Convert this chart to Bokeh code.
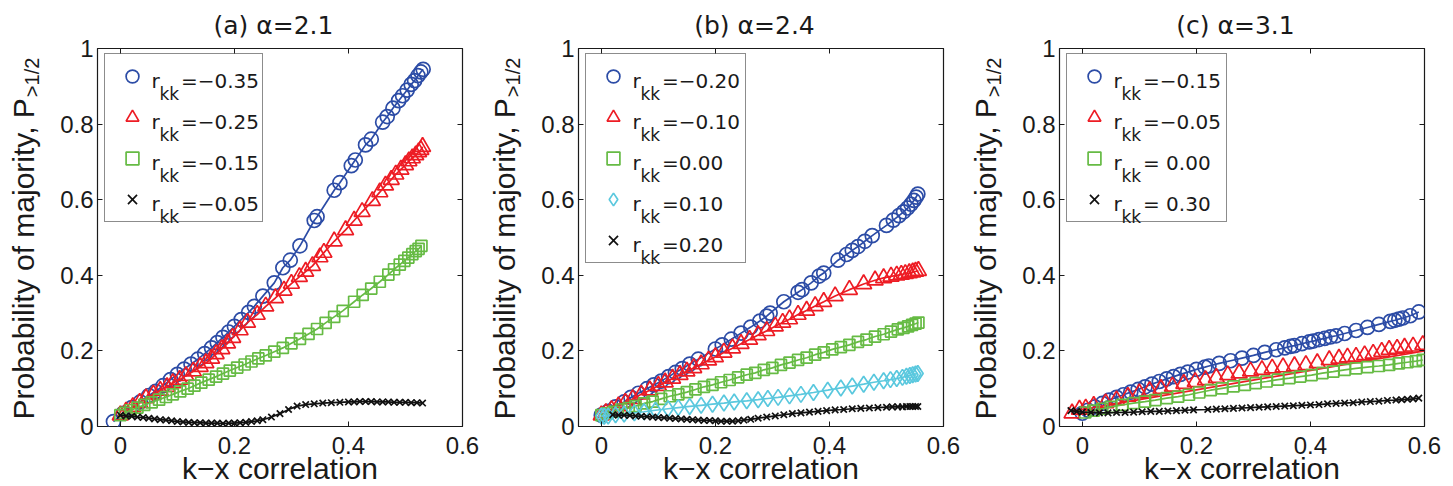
from bokeh.plotting import figure
from bokeh.layouts import row
from bokeh.models import Range1d, FixedTicker, LinearAxis, Label, Legend, LegendItem
from bokeh.core.properties import value
from bokeh.embed import file_html
from bokeh.resources import INLINE

# ---------------- data ----------------
x_ticks = [0.0, 0.2, 0.4, 0.6]
x_tick_labels = ["0", "0.2", "0.4", "0.6"]
y_ticks = [0.0, 0.2, 0.4, 0.6, 0.8, 1.0]
y_tick_labels = ["0", "0.2", "0.4", "0.6", "0.8", "1"]

titles = ["(a) \u03b1=2.1", "(b) \u03b1=2.4", "(c) \u03b1=3.1"]
x_label = "k\u2212x correlation"
y_label_main = "Probability of majority, P"
y_label_sub = ">1/2"

legend_a = ["=\u22120.35", "=\u22120.25", "=\u22120.15", "=\u22120.05"]
legend_b = ["=\u22120.20", "=\u22120.10", "=0.00", "=0.10", "=0.20"]
legend_c = ["=\u22120.15", "=\u22120.05", "= 0.00", "= 0.30"]

# panel (a)
a_blue_x = [-0.012, 0.005, 0.02, 0.035, 0.05, 0.062, 0.075, 0.088, 0.1, 0.112, 0.124, 0.136, 0.148, 0.16, 0.17,
            0.18, 0.19, 0.2, 0.212, 0.225, 0.235, 0.25, 0.27, 0.285, 0.298, 0.315, 0.34, 0.345, 0.375, 0.385,
            0.405, 0.412, 0.43, 0.44, 0.46, 0.468, 0.478, 0.488, 0.495, 0.503, 0.51, 0.516, 0.522, 0.527, 0.531]
a_blue_y = [0.013, 0.035, 0.05, 0.065, 0.082, 0.093, 0.108, 0.124, 0.138, 0.152, 0.165, 0.178, 0.193, 0.208, 0.222,
            0.236, 0.25, 0.265, 0.283, 0.302, 0.318, 0.345, 0.38, 0.42, 0.44, 0.478, 0.545, 0.555, 0.625, 0.645,
            0.69, 0.705, 0.745, 0.76, 0.805, 0.82, 0.842, 0.862, 0.875, 0.89, 0.905, 0.915, 0.928, 0.938, 0.945]
a_red_x = [0.0, 0.01, 0.022, 0.034, 0.045, 0.058, 0.07, 0.082, 0.092, 0.104, 0.115, 0.128, 0.14, 0.15, 0.16,
           0.168, 0.178, 0.188, 0.197, 0.21, 0.223, 0.24, 0.255, 0.272, 0.287, 0.3, 0.314, 0.325, 0.337, 0.35,
           0.357, 0.375, 0.395, 0.41, 0.424, 0.442, 0.455, 0.465, 0.475, 0.483, 0.492, 0.5, 0.506, 0.512, 0.518,
           0.523, 0.527, 0.53]
a_red_y = [0.03, 0.04, 0.052, 0.063, 0.075, 0.085, 0.095, 0.105, 0.115, 0.124, 0.134, 0.146, 0.158, 0.168, 0.18,
           0.192, 0.205, 0.22, 0.235, 0.255, 0.275, 0.296, 0.318, 0.34, 0.36, 0.378, 0.396, 0.41, 0.425, 0.448,
           0.46, 0.49, 0.52, 0.545, 0.568, 0.597, 0.62, 0.638, 0.653, 0.667, 0.68, 0.692, 0.702, 0.71, 0.718,
           0.726, 0.732, 0.74]
a_green_x = [0.0, 0.008, 0.018, 0.03, 0.042, 0.055, 0.068, 0.08, 0.092, 0.105, 0.118, 0.13, 0.142, 0.155, 0.168,
             0.18, 0.192, 0.205, 0.218, 0.23, 0.242, 0.255, 0.27, 0.285, 0.3, 0.315, 0.33, 0.345, 0.36, 0.375,
             0.39, 0.41, 0.425, 0.44, 0.455, 0.47, 0.48, 0.49, 0.498, 0.505, 0.512, 0.518, 0.523, 0.528]
a_green_y = [0.03, 0.036, 0.043, 0.05, 0.057, 0.064, 0.071, 0.078, 0.085, 0.093, 0.1, 0.108, 0.116, 0.124, 0.132,
             0.14, 0.148, 0.156, 0.164, 0.172, 0.18, 0.188, 0.198, 0.208, 0.22, 0.232, 0.245, 0.258, 0.274, 0.29,
             0.306, 0.33, 0.348, 0.365, 0.383, 0.402, 0.416, 0.428, 0.438, 0.447, 0.456, 0.464, 0.47, 0.478]
a_black_x = [0.0, 0.01, 0.02, 0.03, 0.04, 0.05, 0.06, 0.07, 0.08, 0.09, 0.1, 0.11, 0.12, 0.13, 0.14, 0.15, 0.16,
             0.17, 0.18, 0.19, 0.2, 0.21, 0.22, 0.23, 0.24, 0.25, 0.265, 0.28, 0.295, 0.31, 0.325, 0.34, 0.355,
             0.37, 0.385, 0.4, 0.41, 0.42, 0.43, 0.44, 0.45, 0.46, 0.47, 0.48, 0.49, 0.5, 0.51, 0.52, 0.53]
a_black_y = [0.03, 0.028, 0.027, 0.025, 0.024, 0.022, 0.02, 0.018, 0.017, 0.015, 0.013, 0.012, 0.011, 0.01, 0.01,
             0.009, 0.009, 0.009, 0.008, 0.009, 0.009, 0.01, 0.011, 0.013, 0.015, 0.018, 0.025, 0.034, 0.045,
             0.054, 0.058, 0.06, 0.062, 0.063, 0.064, 0.065, 0.065, 0.066, 0.066, 0.066, 0.065, 0.065, 0.065,
             0.064, 0.064, 0.064, 0.063, 0.063, 0.062]

# panel (b)
b_blue_x = [0.0, 0.012, 0.025, 0.04, 0.052, 0.065, 0.08, 0.092, 0.105, 0.118, 0.13, 0.142, 0.155, 0.17, 0.2,
            0.212, 0.228, 0.245, 0.262, 0.278, 0.29, 0.296, 0.32, 0.345, 0.352, 0.368, 0.382, 0.39, 0.415, 0.43,
            0.44, 0.45, 0.462, 0.475, 0.5, 0.512, 0.522, 0.53, 0.537, 0.543, 0.548, 0.552, 0.555]
b_blue_y = [0.03, 0.04, 0.052, 0.065, 0.077, 0.088, 0.1, 0.11, 0.12, 0.132, 0.143, 0.153, 0.165, 0.178, 0.205,
            0.216, 0.231, 0.247, 0.263, 0.279, 0.292, 0.3, 0.33, 0.355, 0.362, 0.38, 0.398, 0.406, 0.44, 0.455,
            0.466, 0.476, 0.49, 0.505, 0.532, 0.546, 0.558, 0.568, 0.578, 0.588, 0.598, 0.607, 0.615]
b_red_x = [0.0, 0.008, 0.018, 0.03, 0.042, 0.055, 0.07, 0.085, 0.1, 0.112, 0.125, 0.138, 0.15, 0.162, 0.175,
           0.188, 0.2, 0.215, 0.23, 0.245, 0.26, 0.275, 0.29, 0.305, 0.318, 0.33, 0.345, 0.36, 0.375, 0.39,
           0.41, 0.435, 0.46, 0.48, 0.495, 0.508, 0.518, 0.526, 0.533, 0.54, 0.546, 0.551, 0.556]
b_red_y = [0.03, 0.036, 0.044, 0.054, 0.063, 0.073, 0.085, 0.096, 0.108, 0.117, 0.127, 0.137, 0.146, 0.155, 0.165,
           0.175, 0.184, 0.196, 0.207, 0.219, 0.23, 0.242, 0.253, 0.265, 0.275, 0.284, 0.296, 0.307, 0.319, 0.33,
           0.345, 0.362, 0.377, 0.387, 0.393, 0.397, 0.4, 0.402, 0.404, 0.406, 0.408, 0.41, 0.412]
b_green_x = [0.0, 0.01, 0.022, 0.035, 0.048, 0.06, 0.075, 0.09, 0.105, 0.12, 0.135, 0.15, 0.165, 0.18, 0.195,
             0.21, 0.225, 0.24, 0.255, 0.27, 0.285, 0.3, 0.315, 0.33, 0.345, 0.36, 0.375, 0.39, 0.405, 0.42,
             0.435, 0.45, 0.465, 0.48, 0.495, 0.508, 0.52, 0.53, 0.538, 0.545, 0.551, 0.556]
b_green_y = [0.03, 0.035, 0.039, 0.045, 0.049, 0.054, 0.061, 0.066, 0.073, 0.08, 0.085, 0.091, 0.098, 0.105, 0.11,
             0.117, 0.123, 0.13, 0.137, 0.142, 0.15, 0.155, 0.163, 0.169, 0.176, 0.182, 0.19, 0.196, 0.204, 0.21,
             0.216, 0.224, 0.23, 0.238, 0.244, 0.251, 0.257, 0.261, 0.265, 0.269, 0.272, 0.275]
b_cyan_x = [0.0, 0.005, 0.012, 0.025, 0.04, 0.058, 0.075, 0.095, 0.117, 0.135, 0.155, 0.175, 0.195, 0.215, 0.233,
            0.255, 0.275, 0.292, 0.31, 0.33, 0.35, 0.372, 0.397, 0.42, 0.44, 0.46, 0.478, 0.495, 0.507, 0.518,
            0.528, 0.535, 0.541, 0.546, 0.551, 0.555]
b_cyan_y = [0.028, 0.027, 0.028, 0.031, 0.033, 0.036, 0.039, 0.043, 0.047, 0.05, 0.053, 0.056, 0.059, 0.062, 0.065,
            0.068, 0.071, 0.074, 0.077, 0.081, 0.085, 0.09, 0.096, 0.102, 0.107, 0.112, 0.117, 0.121, 0.124, 0.127,
            0.13, 0.133, 0.135, 0.137, 0.139, 0.14]
b_black_x = [0.02, 0.03, 0.04, 0.05, 0.06, 0.07, 0.08, 0.09, 0.1, 0.11, 0.12, 0.13, 0.14, 0.15, 0.16, 0.17, 0.18,
             0.19, 0.2, 0.21, 0.22, 0.23, 0.24, 0.25, 0.262, 0.275, 0.29, 0.305, 0.32, 0.335, 0.35, 0.365, 0.38,
             0.395, 0.41, 0.425, 0.44, 0.455, 0.47, 0.485, 0.5, 0.51, 0.52, 0.528, 0.535, 0.541, 0.546, 0.551, 0.555]
b_black_y = [0.031, 0.03, 0.03, 0.029, 0.028, 0.027, 0.026, 0.025, 0.024, 0.023, 0.022, 0.021, 0.02, 0.019, 0.018,
             0.017, 0.016, 0.016, 0.015, 0.014, 0.014, 0.014, 0.015, 0.017, 0.019, 0.022, 0.025, 0.028, 0.031,
             0.034, 0.036, 0.038, 0.04, 0.042, 0.044, 0.045, 0.047, 0.048, 0.049, 0.05, 0.051, 0.052, 0.052,
             0.052, 0.053, 0.053, 0.053, 0.053, 0.053]

# panel (c)
c_blue_x = [0.0, 0.01, 0.022, 0.035, 0.047, 0.06, 0.072, 0.085, 0.098, 0.11, 0.122, 0.135, 0.148, 0.16, 0.172,
            0.185, 0.2, 0.215, 0.222, 0.24, 0.26, 0.28, 0.3, 0.32, 0.34, 0.355, 0.365, 0.372, 0.385, 0.398,
            0.405, 0.415, 0.425, 0.435, 0.445, 0.46, 0.48, 0.5, 0.52, 0.54, 0.548, 0.555, 0.562, 0.575, 0.59]
c_blue_y = [0.035, 0.043, 0.052, 0.061, 0.07, 0.077, 0.084, 0.091, 0.098, 0.105, 0.112, 0.119, 0.126, 0.132, 0.138,
            0.144, 0.151, 0.157, 0.16, 0.167, 0.174, 0.181, 0.188, 0.196, 0.203, 0.208, 0.212, 0.214, 0.219, 0.224,
            0.226, 0.23, 0.233, 0.237, 0.24, 0.246, 0.254, 0.262, 0.27, 0.278, 0.281, 0.284, 0.287, 0.293, 0.303]
c_red_x = [-0.018, -0.005, 0.006, 0.02, 0.041, 0.06, 0.08, 0.1, 0.118, 0.138, 0.158, 0.178, 0.198, 0.216, 0.235,
           0.255, 0.275, 0.295, 0.315, 0.333, 0.352, 0.372, 0.392, 0.412, 0.433, 0.45, 0.465, 0.48, 0.495, 0.51,
           0.525, 0.538, 0.552, 0.565, 0.58, 0.597]
c_red_y = [0.035, 0.045, 0.048, 0.055, 0.062, 0.07, 0.079, 0.088, 0.094, 0.1, 0.106, 0.113, 0.118, 0.123, 0.129,
           0.136, 0.141, 0.146, 0.15, 0.154, 0.157, 0.16, 0.163, 0.168, 0.176, 0.18, 0.183, 0.185, 0.189, 0.193,
           0.198, 0.203, 0.206, 0.209, 0.212, 0.216]
c_red_fit_x = [-0.02, 0.6]
c_red_fit_y = [0.04, 0.2]
c_green_x = [0.005, 0.02, 0.035, 0.05, 0.07, 0.09, 0.11, 0.128, 0.148, 0.168, 0.187, 0.205, 0.225, 0.245, 0.265,
             0.285, 0.304, 0.323, 0.343, 0.363, 0.382, 0.402, 0.421, 0.44, 0.46, 0.48, 0.5, 0.52, 0.538, 0.555,
             0.57, 0.585, 0.597]
c_green_y = [0.037, 0.042, 0.047, 0.052, 0.057, 0.062, 0.066, 0.07, 0.075, 0.079, 0.084, 0.09, 0.096, 0.101, 0.106,
             0.11, 0.115, 0.119, 0.124, 0.128, 0.132, 0.136, 0.141, 0.145, 0.15, 0.154, 0.157, 0.16, 0.163, 0.167,
             0.17, 0.173, 0.176]
c_black_x = [-0.02, -0.01, 0.0, 0.015, 0.03, 0.045, 0.06, 0.075, 0.09, 0.105, 0.12, 0.135, 0.15, 0.165, 0.18,
             0.195, 0.22, 0.235, 0.25, 0.265, 0.28, 0.295, 0.31, 0.325, 0.34, 0.355, 0.37, 0.385, 0.4, 0.415,
             0.43, 0.445, 0.46, 0.475, 0.49, 0.505, 0.52, 0.535, 0.55, 0.56, 0.57, 0.58, 0.59]
c_black_y = [0.042, 0.04, 0.038, 0.037, 0.036, 0.036, 0.037, 0.037, 0.038, 0.039, 0.04, 0.04, 0.041, 0.042, 0.043,
             0.044, 0.045, 0.046, 0.047, 0.048, 0.049, 0.05, 0.051, 0.052, 0.053, 0.054, 0.055, 0.056, 0.057,
             0.058, 0.06, 0.061, 0.062, 0.063, 0.065, 0.066, 0.067, 0.069, 0.07, 0.071, 0.072, 0.073, 0.075]

# ---------------- styling ----------------
BLUE, RED, GREEN, CYAN, BLACK = "#2c4ca6", "#ed1c24", "#66bb44", "#5ac8de", "#111111"
STYLE = {
    "blue": dict(color=BLUE, marker="circle", size=14),
    "red": dict(color=RED, marker="triangle", size=16),
    "green": dict(color=GREEN, marker="square", size=11),
    "cyan": dict(color=CYAN, marker="diamond", size=16),
    "black": dict(color=BLACK, marker="x", size=9),
}

X_RANGE = (-0.04, 0.6)
Y_RANGE = (0.0, 1.0)
FRAME_W, FRAME_H = 365, 378
B_RIGHT, B_TOP, B_BOTTOM = 23, 48, 60

TEXT_FONT = "Liberation Sans"
TEX_FONT = "DejaVu Sans"
INK = "#1a1a1a"


def fx(dx):
    """pixel offset from the frame's left edge -> data x"""
    return X_RANGE[0] + dx / FRAME_W * (X_RANGE[1] - X_RANGE[0])


def fy(dy):
    """pixel offset from the frame's top edge (downwards) -> data y"""
    return Y_RANGE[1] - dy / FRAME_H * (Y_RANGE[1] - Y_RANGE[0])


def label(p, dx, dy, text, size, font=TEX_FONT):
    p.add_layout(Label(x=fx(dx), y=fy(dy), text=text, text_font=font, text_font_size=f"{size}px",
                       text_align="left", text_baseline="alphabetic", text_color=INK))


def base_axis(ticks, standoff):
    ax = LinearAxis(ticker=FixedTicker(ticks=ticks))
    ax.major_tick_out = 0
    ax.minor_tick_line_color = None
    ax.axis_line_color = None
    ax.major_label_standoff = standoff
    return ax


def tick_axis(ticks, labels, show_labels, standoff):
    ax = base_axis(ticks, standoff)
    ax.major_label_overrides = {float(t): l for t, l in zip(ticks, labels)}
    ax.major_tick_in = 5
    ax.major_tick_line_color = INK
    ax.major_tick_line_width = 1
    ax.major_label_text_font = TEXT_FONT
    if show_labels:
        ax.major_label_text_color = INK
        ax.major_label_text_font_size = "24px"
    else:
        ax.major_label_text_color = None
        ax.major_label_text_font_size = "1px"
    return ax


def text_axis(pos, text, font, size, standoff, orientation="horizontal"):
    """an axis carrying one text (title / axis title) at a given place along the side"""
    ax = base_axis([pos], standoff)
    ax.major_label_overrides = {float(pos): text}
    ax.major_tick_in = 0
    ax.major_tick_line_color = None
    ax.major_label_text_font = font
    ax.major_label_text_font_size = f"{size}px"
    ax.major_label_text_color = INK
    ax.major_label_orientation = orientation
    return ax


def make_panel(title, series, legend_texts, border_left, label_w):
    p = figure(frame_width=FRAME_W, frame_height=FRAME_H, output_backend="svg", toolbar_location=None,
               title=None, x_range=Range1d(*X_RANGE), y_range=Range1d(*Y_RANGE),
               min_border_left=border_left, min_border_right=B_RIGHT, min_border_top=B_TOP,
               min_border_bottom=B_BOTTOM, x_axis_type=None, y_axis_type=None)
    p.xgrid.visible = False
    p.ygrid.visible = False
    p.outline_line_color = INK
    p.outline_line_width = 1.2
    p.background_fill_alpha = 0.0
    p.border_fill_alpha = 0.0

    # bottom axis with tick labels and the x axis title
    xb = tick_axis(x_ticks, x_tick_labels, True, 10)
    xb.axis_label = x_label
    xb.axis_label_text_font = TEXT_FONT
    xb.axis_label_text_font_size = "30px"
    xb.axis_label_text_font_style = "normal"
    xb.axis_label_text_color = INK
    xb.axis_label_standoff = -5
    p.add_layout(xb, "below")

    # left: tick labels, then y title, then its subscript
    p.add_layout(tick_axis(y_ticks, y_tick_labels, True, 4), "left")
    p.add_layout(text_axis(fy(210.3), y_label_main, TEXT_FONT, 30, 17, "vertical"), "left")
    p.add_layout(text_axis(fy(28.9), y_label_sub, TEXT_FONT, 20, -39, "vertical"), "left")

    # top: ticks only, then the panel title
    p.add_layout(tick_axis(x_ticks, x_tick_labels, False, 0), "above")
    p.add_layout(text_axis(fx(176), title, TEX_FONT, 25, 9), "above")

    # right: ticks only
    p.add_layout(tick_axis(y_ticks, y_tick_labels, False, 0), "right")

    renderers = []
    for s in series:
        st = STYLE[s["style"]]
        lx = s.get("line_x", s["x"])
        ly = s.get("line_y", s["y"])
        p.line(lx, ly, line_color=st["color"], line_width=1.7)
        r = p.scatter(s["x"], s["y"], marker=st["marker"], size=st["size"], line_color=st["color"],
                      fill_color=None, line_width=1.7)
        renderers.append(r)

    n = len(renderers)
    pad, item_h, gap = 6, 32, 9
    leg_h = 2 * pad + n * item_h + (n - 1) * gap
    top_off = 6.5
    legend = Legend(items=[LegendItem(label=value(" "), renderers=[r]) for r in renderers],
                    location=(7, FRAME_H - top_off - leg_h), padding=pad, spacing=gap,
                    glyph_width=42, glyph_height=item_h, label_height=item_h, label_width=label_w,
                    label_standoff=0, label_text_font_size="1px", label_text_color=None,
                    border_line_color=INK, border_line_width=1,
                    background_fill_alpha=0.0)
    p.add_layout(legend)

    # legend texts: r_kk=...
    for i, t in enumerate(legend_texts):
        base = top_off + pad + item_h / 2 + 4.2 + (item_h + gap) * i
        label(p, 54, base, "r", 20)
        label(p, 62, base + 12.3, "kk", 17)
        label(p, 83.5, base, t, 20)
    return p


pa = make_panel(titles[0], [
    dict(x=a_blue_x, y=a_blue_y, style="blue"),
    dict(x=a_red_x, y=a_red_y, style="red"),
    dict(x=a_green_x, y=a_green_y, style="green"),
    dict(x=a_black_x, y=a_black_y, style="black"),
], legend_a, 97, 103)

pb = make_panel(titles[1], [
    dict(x=b_blue_x, y=b_blue_y, style="blue"),
    dict(x=b_red_x, y=b_red_y, style="red"),
    dict(x=b_green_x, y=b_green_y, style="green"),
    dict(x=b_cyan_x, y=b_cyan_y, style="cyan"),
    dict(x=b_black_x, y=b_black_y, style="black"),
], legend_b, 92, 105)

pc = make_panel(titles[2], [
    dict(x=c_blue_x, y=c_blue_y, style="blue"),
    dict(x=c_red_x, y=c_red_y, style="red", line_x=c_red_fit_x, line_y=c_red_fit_y),
    dict(x=c_green_x, y=c_green_y, style="green"),
    dict(x=c_black_x, y=c_black_y, style="black"),
], legend_c, 92, 105)

layout = row(pa, pb, pc, spacing=0)
open("out.html", "w").write(file_html(layout, INLINE))
